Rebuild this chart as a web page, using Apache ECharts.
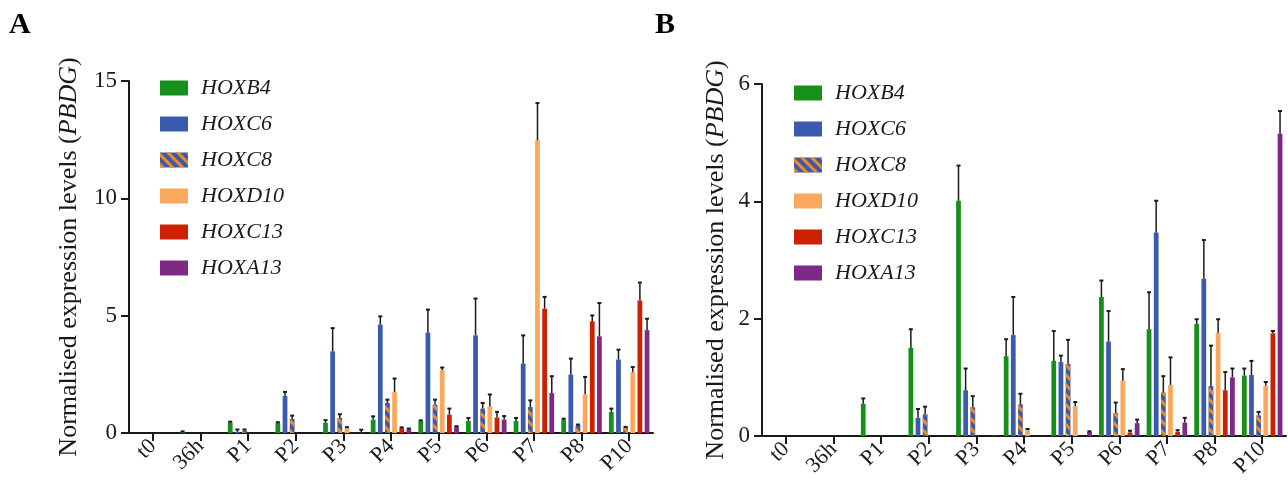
<!DOCTYPE html>
<html><head><meta charset="utf-8">
<script src="https://cdn.jsdelivr.net/npm/echarts@6/dist/echarts.min.js"></script>
<style>html,body{margin:0;padding:0;background:#fff}#c{width:1288px;height:483px}</style>
</head><body><div id="c"></div>
<script>
const categories = ['t0','36h','P1','P2','P3','P4','P5','P6','P7','P8','P10'];
const genes = ['HOXB4','HOXC6','HOXC8','HOXD10','HOXC13','HOXA13'];
const yTicksA = [0,5,10,15];
const yTicksB = [0,2,4,6];

// Panel A means and errors (SEM, drawn upward)
const A_HOXB4  = [0, 0.05, 0.44, 0.43, 0.43, 0.57, 0.51, 0.51, 0.51, 0.57, 0.90];
const A_HOXB4e = [0, 0.02, 0.04, 0.03, 0.12, 0.14, 0.03, 0.13, 0.13, 0.04, 0.14];
const A_HOXC6  = [0, 0, 0.05, 1.58, 3.48, 4.62, 4.28, 4.16, 2.96, 2.49, 3.13];
const A_HOXC6e = [0, 0, 0.10, 0.17, 0.99, 0.35, 0.98, 1.57, 1.20, 0.68, 0.42];
const A_HOXC8  = [0, 0, 0.10, 0.60, 0.64, 1.28, 1.21, 1.04, 1.11, 0.33, 0.23];
const A_HOXC8e = [0, 0, 0.05, 0.14, 0.16, 0.14, 0.21, 0.24, 0.28, 0.03, 0.03];
const A_HOXD10  = [0, 0, 0, 0, 0.21, 1.75, 2.67, 1.14, 12.47, 1.65, 2.59];
const A_HOXD10e = [0, 0, 0, 0, 0.04, 0.57, 0.12, 0.50, 1.59, 0.74, 0.22];
const A_HOXC13  = [0, 0, 0, 0, 0, 0.21, 0.78, 0.66, 5.30, 4.76, 5.65];
const A_HOXC13e = [0, 0, 0, 0, 0, 0.03, 0.26, 0.24, 0.50, 0.25, 0.76];
const A_HOXA13  = [0, 0, 0, 0, 0.02, 0.16, 0.26, 0.57, 1.70, 4.12, 4.38];
const A_HOXA13e = [0, 0, 0, 0, 0.12, 0.03, 0.03, 0.15, 0.72, 1.42, 0.49];

// Panel B
const B_HOXB4  = [0, 0, 0.55, 1.50, 4.01, 1.36, 1.28, 2.37, 1.82, 1.91, 1.03];
const B_HOXB4e = [0, 0, 0.09, 0.32, 0.60, 0.29, 0.51, 0.28, 0.63, 0.08, 0.12];
const B_HOXC6  = [0, 0, 0, 0.31, 0.78, 1.72, 1.26, 1.61, 3.47, 2.68, 1.04];
const B_HOXC6e = [0, 0, 0, 0.15, 0.37, 0.65, 0.11, 0.52, 0.54, 0.66, 0.24];
const B_HOXC8  = [0, 0, 0, 0.37, 0.49, 0.54, 1.23, 0.39, 0.74, 0.85, 0.35];
const B_HOXC8e = [0, 0, 0, 0.13, 0.19, 0.18, 0.41, 0.18, 0.28, 0.69, 0.06];
const B_HOXD10  = [0, 0, 0, 0, 0, 0.10, 0.51, 0.94, 0.87, 1.76, 0.86];
const B_HOXD10e = [0, 0, 0, 0, 0, 0.02, 0.07, 0.20, 0.47, 0.23, 0.06];
const B_HOXC13  = [0, 0, 0, 0, 0, 0, 0, 0.06, 0.07, 0.78, 1.75];
const B_HOXC13e = [0, 0, 0, 0, 0, 0, 0, 0.03, 0.03, 0.31, 0.04];
const B_HOXA13  = [0, 0, 0, 0, 0.01, 0, 0.07, 0.22, 0.23, 1.00, 5.15];
const B_HOXA13e = [0, 0, 0, 0, 0, 0, 0.01, 0.06, 0.08, 0.15, 0.39];

const panelA = [[A_HOXB4,A_HOXB4e],[A_HOXC6,A_HOXC6e],[A_HOXC8,A_HOXC8e],[A_HOXD10,A_HOXD10e],[A_HOXC13,A_HOXC13e],[A_HOXA13,A_HOXA13e]];
const panelB = [[B_HOXB4,B_HOXB4e],[B_HOXC6,B_HOXC6e],[B_HOXC8,B_HOXC8e],[B_HOXD10,B_HOXD10e],[B_HOXC13,B_HOXC13e],[B_HOXA13,B_HOXA13e]];

const colors = ['#16901a','#3a5bad','#3a5bad','#f9a85c','#cc2000','#7c2a86'];
const stripe = '#f08a22';
const serif = '"Liberation Serif","DejaVu Serif",serif';
const ink = '#1a1a1a';
const BAR_FRAC = 0.10, GAP = '50%', STEP = 0.15;

function barSeries(panel, p){
  return panel.map((d,k)=>{
    const s = {name: genes[k], type:'bar', xAxisIndex:p, yAxisIndex:p,
      data: d[0], barWidth: (BAR_FRAC*100)+'%', barGap: GAP,
      itemStyle:{color: colors[k]}, silent:true, animation:false};
    if (k===2){
      s.itemStyle.decal = {symbol:'rect', symbolSize:1, color: stripe,
        dashArrayX:[1,0], dashArrayY:[3,4], rotation: Math.PI/4};
    }
    return s;
  });
}
function errSeries(panel, p){
  return panel.map((d,k)=>({
    name: 'err'+p+k, type:'custom', xAxisIndex:p, yAxisIndex:p, animation:false, silent:true,
    data: d[0].map((v,i)=>[i, v, d[1][i]]),
    encode:{x:0, y:1},
    z: 5,
    renderItem: function(params, api){
      const ci = api.value(0), v = api.value(1), e = api.value(2);
      if (!e) return null;
      const bw = api.size([1,0])[0];
      const dx = (k-2.5)*STEP*bw;
      const b = api.coord([ci, v]); const t = api.coord([ci, v+e]);
      const x = b[0]+dx;
      return {type:'group', children:[
        {type:'line', shape:{x1:x, y1:b[1], x2:x, y2:t[1]}, style:{stroke:ink, lineWidth:1.5}},
        {type:'line', shape:{x1:x-2, y1:t[1], x2:x+2, y2:t[1]}, style:{stroke:ink, lineWidth:2}}
      ]};
    }
  }));
}

function xAx(p){
  return {type:'category', gridIndex:p, data:categories,
    axisLine:{lineStyle:{color:ink, width:2}},
    axisTick:{show:true, length:8, alignWithLabel:true, lineStyle:{color:ink, width:2}},
    axisLabel:{rotate:45, margin:10, fontFamily:serif, fontSize:22, color:ink},
    splitLine:{show:false}};
}
function yAx(p, max, interval, gap){
  return {type:'value', gridIndex:p, min:0, max:max, interval:interval,
    axisLine:{show:true, lineStyle:{color:ink, width:2}},
    axisTick:{show:true, length:8, lineStyle:{color:ink, width:2}},
    axisLabel:{fontFamily:serif, fontSize:23, color:ink, margin:12},
    splitLine:{show:false},
    name:'{a|Normalised expression levels (}{b|PBDG}{a|)}',
    nameLocation:'middle', nameRotate:90, nameGap:gap,
    nameTextStyle:{rich:{a:{fontFamily:serif, fontSize:26, color:ink}, b:{fontFamily:serif, fontSize:26, fontStyle:'italic', color:ink}}}};
}
function legend(left, top){
  return {orient:'vertical', left:left, top:top, data:genes, itemWidth:28, itemHeight:15,
    itemGap:14, icon:'rect', selectedMode:false,
    textStyle:{fontFamily:serif, fontSize:22, fontStyle:'italic', color:ink, lineHeight:22, padding:[0,0,0,8]}};
}

const chart = echarts.init(document.getElementById('c'), null, {renderer:'canvas'});
chart.setOption({
  backgroundColor:'#fff',
  animation:false,
  title:[
    {text:'A', left:4, top:5, textStyle:{fontFamily:serif, fontSize:30, fontWeight:'bold', color:'#000'}},
    {text:'B', left:650, top:5, textStyle:{fontFamily:serif, fontSize:30, fontWeight:'bold', color:'#000'}}
  ],
  legend:[legend(155, 72), legend(789, 77)],
  grid:[
    {left:129, right:635, top:81, bottom:50},
    {left:762, right:2, top:84, bottom:47}
  ],
  xAxis:[xAx(0), xAx(1)],
  yAxis:[yAx(0, 15, 5, 47), yAx(1, 6, 2, 33)],
  series:[...barSeries(panelA,0), ...barSeries(panelB,1), ...errSeries(panelA,0), ...errSeries(panelB,1)]
});
</script></body></html>
